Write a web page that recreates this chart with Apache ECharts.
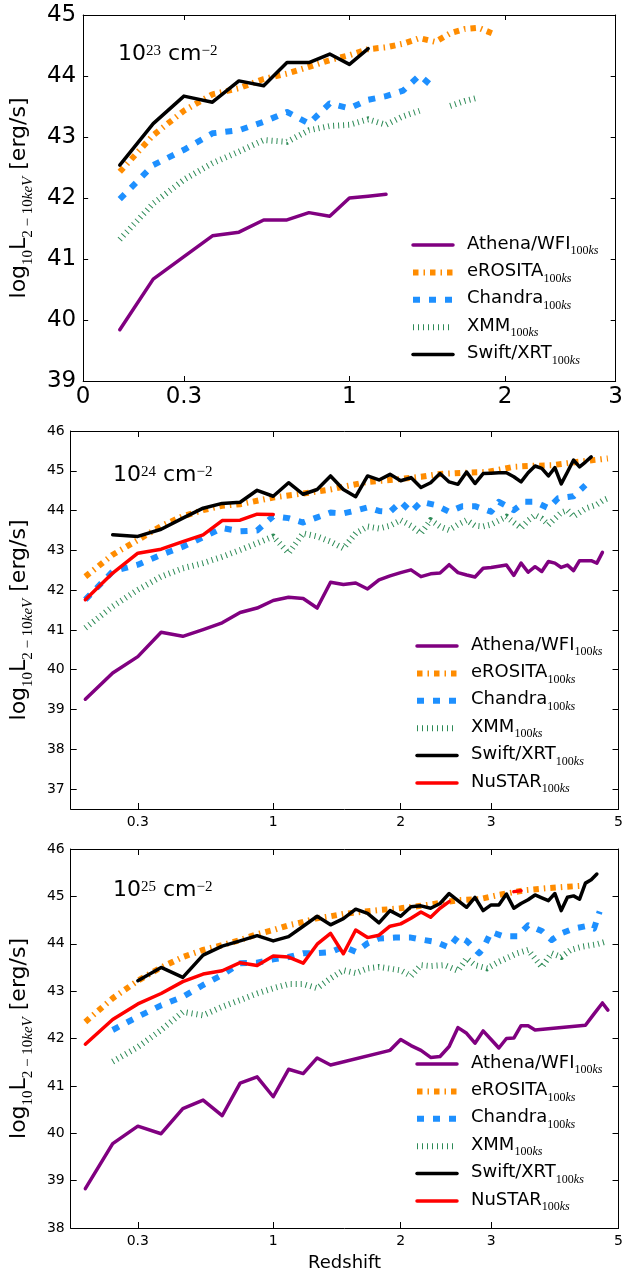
<!DOCTYPE html>
<html><head><meta charset="utf-8">
<script src="https://cdn.jsdelivr.net/npm/echarts@6/dist/echarts.min.js"></script>
<style>html,body{margin:0;padding:0;background:#fff}#c{width:626px;height:1277px}</style>
</head><body><div id="c"></div>
<script>
// ---------------- DATA ----------------
// Panel 1 (N_H = 1e23): redshift grid and values
const p1Z = [0.1,0.2,0.3,0.4,0.5,0.6,0.7,0.8,0.9,1.0,1.1,1.2,1.3,1.4,1.5,1.6,1.7,1.8,1.9];
const p1Athena  = [39.84,40.67,41.04,41.38,41.44,41.64,41.64,41.76,41.70,42.00,42.03,42.06];
const p1eROSITA = [42.43,43.03,43.43,43.70,43.80,43.95,44.04,44.15,44.26,44.34,44.44,44.47,44.53,44.62,44.56,44.70,44.77,44.79,44.70];
const p1Chandra = [41.98,42.54,42.79,43.06,43.11,43.25,43.41,43.22,43.55,43.47,43.61,43.67,43.76,44.01,43.79];
const p1XMM     = [41.32,41.91,42.30,42.57,42.76,42.95,42.92,43.11,43.18,43.20,43.29,43.20,43.34,43.43,null,43.51,43.59,43.65];
const p1Swift   = [42.54,43.22,43.67,43.57,43.92,43.84,44.22,44.22,44.36,44.19,44.45];

// Panel 2 (N_H = 1e24): [redshift, log L]
const p2Athena = [[0.1,39.26],[0.2,39.92],[0.3,40.33],[0.4,40.94],[0.5,40.84],[0.6,41.01],[0.7,41.18],[0.8,41.44],[0.9,41.55],[1.0,41.74],[1.1,41.82],[1.2,41.79],[1.3,41.55],[1.4,42.20],[1.5,42.14],[1.6,42.18],[1.7,42.03],[1.8,42.26],[1.9,42.36],[2.0,42.44],[2.1,42.51],[2.2,42.34],[2.3,42.41],[2.4,42.43],[2.5,42.64],[2.6,42.44],[2.7,42.38],[2.8,42.33],[2.9,42.55],[3.0,42.57],[3.1,42.60],[3.2,42.63],[3.3,42.37],[3.4,42.68],[3.5,42.45],[3.6,42.59],[3.7,42.47],[3.8,42.72],[3.9,42.68],[4.0,42.57],[4.1,42.63],[4.2,42.49],[4.3,42.74],[4.4,42.74],[4.5,42.74],[4.6,42.68],[4.7,42.95]];
const p2eROSITA = [[0.1,42.34],[0.2,42.89],[0.3,43.26],[0.4,43.61],[0.5,43.86],[0.6,44.01],[0.7,44.12],[0.8,44.16],[1.0,44.33],[1.2,44.43],[1.4,44.53],[1.5,44.60],[1.7,44.72],[1.95,44.78],[2.2,44.85],[2.4,44.92],[2.65,44.95],[2.95,44.97],[3.3,45.10],[3.5,45.12],[3.85,45.14],[4.25,45.22],[4.8,45.31]];
const p2Chandra = [[0.1,41.76],[0.2,42.47],[0.3,42.64],[0.4,42.89],[0.5,43.09],[0.6,43.33],[0.7,43.56],[0.8,43.48],[0.9,43.50],[1.0,43.86],[1.1,43.81],[1.2,43.70],[1.3,43.83],[1.4,43.95],[1.5,43.93],[1.6,44.00],[1.7,44.08],[1.8,43.99],[1.9,43.97],[2.0,44.22],[2.1,43.97],[2.2,44.22],[2.35,44.14],[2.5,43.97],[2.65,44.11],[2.8,44.11],[3.0,43.97],[3.1,44.22],[3.3,44.01],[3.45,44.22],[3.6,44.22],[3.8,44.06],[3.95,44.31],[4.2,44.36],[4.4,44.64]];
const p2XMM = [[0.1,41.05],[0.2,41.59],[0.3,42.01],[0.4,42.34],[0.5,42.55],[0.6,42.68],[0.7,42.84],[0.8,43.01],[0.9,43.18],[1.0,43.35],[1.1,42.93],[1.2,43.43],[1.3,43.35],[1.4,43.22],[1.5,43.05],[1.6,43.43],[1.7,43.60],[1.8,43.55],[1.9,43.62],[2.0,43.76],[2.1,43.62],[2.2,43.43],[2.3,43.76],[2.4,43.60],[2.5,43.51],[2.6,43.65],[2.7,43.76],[2.8,43.62],[2.9,43.60],[3.0,43.65],[3.1,43.75],[3.2,43.85],[3.3,43.70],[3.4,43.56],[3.5,43.75],[3.6,43.89],[3.7,43.80],[3.8,43.64],[3.9,43.80],[4.0,43.95],[4.1,44.01],[4.2,43.85],[4.3,43.95],[4.4,44.05],[4.5,44.10],[4.6,44.15],[4.7,44.25],[4.8,44.31]];
const p2Swift = [[0.2,43.39],[0.3,43.35],[0.4,43.53],[0.5,43.81],[0.6,44.06],[0.7,44.18],[0.8,44.21],[0.9,44.51],[1.0,44.36],[1.1,44.70],[1.2,44.41],[1.3,44.53],[1.4,44.87],[1.5,44.53],[1.6,44.35],[1.7,44.87],[1.8,44.77],[1.9,44.91],[2.0,44.75],[2.1,44.83],[2.2,44.58],[2.3,44.70],[2.4,44.93],[2.5,44.72],[2.6,44.66],[2.7,44.97],[2.8,44.68],[2.9,44.93],[3.0,44.94],[3.1,44.95],[3.2,44.95],[3.3,44.85],[3.4,44.72],[3.5,44.95],[3.6,45.12],[3.7,45.06],[3.8,44.87],[3.9,45.08],[4.0,44.67],[4.1,44.97],[4.2,45.27],[4.3,45.10],[4.4,45.22],[4.5,45.35]];
const p2NuSTAR = [[0.1,41.76],[0.2,42.43],[0.3,42.93],[0.4,43.03],[0.5,43.22],[0.6,43.39],[0.7,43.75],[0.8,43.76],[0.9,43.91],[1.0,43.90]];

// Panel 3 (N_H = 1e25): [redshift, log L]
const p3Athena = [[0.1,38.83],[0.2,39.78],[0.3,40.15],[0.4,39.99],[0.5,40.52],[0.6,40.70],[0.7,40.37],[0.8,41.06],[0.9,41.19],[1.0,40.77],[1.1,41.35],[1.2,41.26],[1.3,41.59],[1.4,41.44],[1.9,41.75],[2.0,41.98],[2.1,41.85],[2.2,41.75],[2.3,41.60],[2.4,41.62],[2.5,41.83],[2.6,42.23],[2.7,42.11],[2.8,41.90],[2.9,42.16],[3.0,41.98],[3.1,41.80],[3.2,42.00],[3.3,42.01],[3.4,42.27],[3.5,42.27],[3.6,42.18],[4.4,42.28],[4.55,42.52],[4.7,42.75],[4.8,42.60]];
const p3eROSITA = [[0.1,42.35],[0.2,42.85],[0.3,43.22],[0.4,43.50],[0.5,43.72],[0.6,43.87],[0.7,43.97],[0.8,44.08],[0.9,44.20],[1.0,44.29],[1.1,44.39],[1.2,44.46],[1.3,44.54],[1.4,44.58],[1.5,44.63],[1.6,44.66],[1.8,44.71],[2.0,44.75],[2.2,44.80],[2.4,44.86],[2.6,44.92],[2.85,44.94],[3.1,45.03],[3.45,45.13],[3.75,45.17],[4.05,45.20],[4.3,45.22]];
const p3Chandra = [[0.2,42.18],[0.3,42.46],[0.4,42.70],[0.5,42.88],[0.6,43.13],[0.7,43.34],[0.8,43.59],[0.9,43.60],[1.0,43.67],[1.1,43.72],[1.2,43.80],[1.3,43.80],[1.4,43.82],[1.5,43.94],[1.6,43.83],[1.7,44.01],[1.8,44.11],[1.95,44.13],[2.1,44.13],[2.2,44.09],[2.35,44.04],[2.5,43.92],[2.6,44.16],[2.7,44.06],[2.85,43.80],[2.9,43.90],[3.0,44.25],[3.15,44.16],[3.35,44.16],[3.5,44.39],[3.7,44.27],[3.85,44.08],[4.0,44.22],[4.2,44.32],[4.4,44.37],[4.55,44.32],[4.65,44.68]];
const p3XMM = [[0.2,41.51],[0.3,41.82],[0.4,42.18],[0.5,42.56],[0.6,42.49],[0.7,42.67],[0.8,42.81],[0.9,42.95],[1.0,43.06],[1.1,43.15],[1.2,43.15],[1.3,43.06],[1.4,43.27],[1.5,43.44],[1.6,43.38],[1.7,43.48],[1.8,43.51],[2.0,43.44],[2.1,43.32],[2.2,43.55],[2.3,43.53],[2.45,43.55],[2.6,43.43],[2.7,43.69],[2.8,43.55],[2.95,43.48],[3.1,43.62],[3.35,43.80],[3.5,43.87],[3.7,43.51],[3.85,43.80],[4.0,43.72],[4.15,43.87],[4.35,43.94],[4.6,43.99],[4.75,44.04]];
const p3Swift = [[0.3,43.22],[0.4,43.50],[0.5,43.29],[0.6,43.76],[0.7,43.95],[0.8,44.06],[0.9,44.17],[1.0,44.06],[1.1,44.15],[1.2,44.37],[1.3,44.58],[1.4,44.40],[1.5,44.53],[1.6,44.73],[1.7,44.64],[1.8,44.44],[1.9,44.70],[2.0,44.58],[2.1,44.78],[2.2,44.80],[2.3,44.75],[2.4,44.85],[2.5,45.06],[2.6,44.91],[2.7,44.77],[2.8,44.98],[2.9,44.70],[3.0,44.82],[3.1,44.82],[3.2,45.05],[3.3,44.75],[3.4,44.85],[3.5,44.93],[3.6,45.03],[3.7,44.97],[3.8,44.91],[3.9,45.06],[4.0,44.70],[4.1,44.98],[4.2,45.01],[4.3,44.94],[4.4,45.28],[4.5,45.35],[4.6,45.47]];
const p3NuSTAR = [[0.1,41.88],[0.2,42.40],[0.3,42.73],[0.4,42.95],[0.5,43.20],[0.6,43.36],[0.7,43.43],[0.8,43.60],[0.9,43.54],[1.0,43.74],[1.1,43.72],[1.2,43.59],[1.3,43.99],[1.4,44.22],[1.5,43.79],[1.6,44.29],[1.7,44.13],[1.8,44.18],[1.9,44.37],[2.0,44.42],[2.1,44.54],[2.2,44.67],[2.3,44.56],[2.4,44.75],[2.5,44.89],[2.6,null],[3.2,null],[3.3,45.10],[3.4,45.12]];

// Tick labels
const p1XTicks = [0, 0.3, 1, 2, 3];
const p23XTicks = [0.3, 1, 2, 3, 5];
const p1YTicks = [39,40,41,42,43,44,45];
const p2YTicks = [37,38,39,40,41,42,43,44,45,46];
const p3YTicks = [38,39,40,41,42,43,44,45,46];
const panelLabels = ['23','24','25'];
const names = ['Athena/WFI','eROSITA','Chandra','XMM','Swift/XRT','NuSTAR'];

// ---------------- STYLE / BUILD ----------------
const lx = z => Math.log10(1 + z);
const styles = {
  'Athena/WFI': {color:'#800080', width:3.5, type:'solid'},
  'eROSITA':    {color:'#FF8C00', width:6,   type:[5.5,5,1.5,5]},
  'Chandra':    {color:'#1E90FF', width:6,   type:[7,9]},
  'XMM':        {color:'#2E8B57', width:6,   type:[1,4]},
  'Swift/XRT':  {color:'#000000', width:3.5, type:'solid'},
  'NuSTAR':     {color:'#FF0000', width:3.5, type:'solid'}
};
function mkSeries(name, gi, data) {
  const s = styles[name];
  return {
    type:'line', name, xAxisIndex: gi*2, yAxisIndex: gi*2, data,
    symbol:'none', showSymbol:false, connectNulls:false, clip:true,
    itemStyle:{color:s.color},
    lineStyle:{color:s.color, width:s.width, type:s.type, cap: s.type==='solid'?'round':'butt', join:'round'},
    emphasis:{disabled:true}, silent:true
  };
}
const fromGrid = arr => arr.map((v,i) => [lx(p1Z[i]), v]);
const fromPairs = arr => arr.map(([z,v]) => [lx(z), v]);

const series = [
  mkSeries('Athena/WFI',0,fromGrid(p1Athena)),
  mkSeries('eROSITA',0,fromGrid(p1eROSITA)),
  mkSeries('Chandra',0,fromGrid(p1Chandra)),
  mkSeries('XMM',0,fromGrid(p1XMM)),
  mkSeries('Swift/XRT',0,fromGrid(p1Swift)),
  mkSeries('Athena/WFI',1,fromPairs(p2Athena)),
  mkSeries('eROSITA',1,fromPairs(p2eROSITA)),
  mkSeries('Chandra',1,fromPairs(p2Chandra)),
  mkSeries('XMM',1,fromPairs(p2XMM)),
  mkSeries('Swift/XRT',1,fromPairs(p2Swift)),
  mkSeries('NuSTAR',1,fromPairs(p2NuSTAR)),
  mkSeries('Athena/WFI',2,fromPairs(p3Athena)),
  mkSeries('eROSITA',2,fromPairs(p3eROSITA)),
  mkSeries('Chandra',2,fromPairs(p3Chandra)),
  mkSeries('XMM',2,fromPairs(p3XMM)),
  mkSeries('Swift/XRT',2,fromPairs(p3Swift)),
  mkSeries('NuSTAR',2,fromPairs(p3NuSTAR))
];

const FONT = 'DejaVu Sans';
const grids = [
  {left:75, top:15, width:542, height:366},
  {left:62, top:431, width:558, height:378},
  {left:62, top:849, width:558, height:379}
];
const panels = [
  {xmin:0, xmax:3, xt:p1XTicks, ymin:39, ymax:45, yt:p1YTicks, fs:23, tick:5, nameGap:42.5, xMargin:5, yMargin:7},
  {xmin:0.05, xmax:5, xt:p23XTicks, ymin:36.5, ymax:46, yt:p2YTicks, fs:14, tick:6, nameGap:29.5, xMargin:6, yMargin:6},
  {xmin:0.05, xmax:5, xt:p23XTicks, ymin:38, ymax:46, yt:p3YTicks, fs:14, tick:6, nameGap:29.5, xMargin:6, yMargin:6}
];
const fmtZ = v => String(Math.round((Math.pow(10, v) - 1) * 10) / 10);
const lineCol = {color:'#000', width:1};
const yNameRich = {
  t:{fontSize:22, fontFamily:FONT, color:'#000', lineHeight:28, verticalAlign:'top'},
  s:{fontSize:15, fontFamily:'Liberation Serif', color:'#000', lineHeight:15, verticalAlign:'top', padding:[13,0,0,0]},
  k:{fontSize:15, fontFamily:'Liberation Serif', fontStyle:'italic', color:'#000', lineHeight:15, verticalAlign:'top', padding:[13,0,0,0]}
};
const xAxis = [], yAxis = [];
panels.forEach((p, i) => {
  const xv = p.xt.map(lx), yv = p.yt;
  const base = {gridIndex:i, type:'value', min:lx(p.xmin), max:lx(p.xmax), splitLine:{show:false},
    axisLine:{show:true, onZero:false, lineStyle:lineCol}};
  xAxis.push(Object.assign({}, base, {position:'bottom',
    axisTick:{show:true, inside:true, length:p.tick, customValues:xv, lineStyle:lineCol},
    axisLabel:{show:true, customValues:xv, formatter:fmtZ, fontSize:p.fs, fontFamily:FONT, color:'#000', margin:p.xMargin},
    name: i===2 ? 'Redshift' : '', nameLocation:'middle', nameGap:26,
    nameTextStyle:{fontSize:18, fontFamily:FONT, color:'#000'}}));
  xAxis.push(Object.assign({}, base, {position:'top',
    axisTick:{show:true, inside:true, length:p.tick, customValues:xv, lineStyle:lineCol},
    axisLabel:{show:false}}));
  const ybase = {gridIndex:i, type:'value', min:p.ymin, max:p.ymax, splitLine:{show:false},
    axisLine:{show:true, onZero:false, lineStyle:lineCol}};
  yAxis.push(Object.assign({}, ybase, {position:'left',
    axisTick:{show:true, inside:true, length:p.tick, customValues:yv, lineStyle:lineCol},
    axisLabel:{show:true, customValues:yv, fontSize:p.fs, fontFamily:FONT, color:'#000', margin:p.yMargin},
    name:'{t|log}{s|10}{t|L}{s|2 − 10}{k|keV}{t| [erg/s]}', nameLocation:'middle', nameRotate:90, nameGap:p.nameGap,
    nameTextStyle:{rich:yNameRich}}));
  yAxis.push(Object.assign({}, ybase, {position:'right',
    axisTick:{show:true, inside:true, length:p.tick, customValues:yv, lineStyle:lineCol},
    axisLabel:{show:false}}));
});

const legRich = {
  a:{fontSize:18, fontFamily:FONT, color:'#000', lineHeight:20, verticalAlign:'top', padding:[0,0,0,9]},
  s:{fontSize:12, fontFamily:'Liberation Serif', color:'#000', lineHeight:12, verticalAlign:'top', padding:[10,0,0,0]},
  k:{fontSize:12, fontFamily:'Liberation Serif', fontStyle:'italic', color:'#000', lineHeight:12, verticalAlign:'top', padding:[10,0,0,0]}
};
function mkLegend(data, left, top) {
  return {data, left, top, orient:'vertical', itemWidth:40, itemHeight:14, itemGap:5.4, padding:0,
    selectedMode:false, formatter: n => `{a|${n}}{s|100}{k|ks}`,
    textStyle:{rich:legRich}, lineStyle:{width:'inherit'},
    itemStyle:{opacity:0, borderWidth:0}};
}
const legend = [
  mkLegend(names.slice(0,5), 410, 235),
  mkLegend(names, 414, 636),
  mkLegend(names, 414, 1054)
];

const annRich = {
  n:{fontSize:22, fontFamily:FONT, color:'#000', lineHeight:28, verticalAlign:'top'},
  p:{fontSize:15, fontFamily:'Liberation Serif', color:'#000', lineHeight:15, verticalAlign:'top', padding:[1,0,0,0]}
};
const annPos = [[118,43],[113,464],[113,879]];
const graphic = panelLabels.map((e, i) => ({
  type:'text', left:annPos[i][0], top:annPos[i][1], silent:true,
  style:{text:`{n|10}{p|${e}}{n| cm}{p|−2}`, rich:annRich}
}));

const chart = echarts.init(document.getElementById('c'), null, {renderer:'canvas'});
chart.setOption({
  animation:false, backgroundColor:'#fff',
  grid:grids, xAxis, yAxis, series, legend, graphic
});
</script></body></html>
